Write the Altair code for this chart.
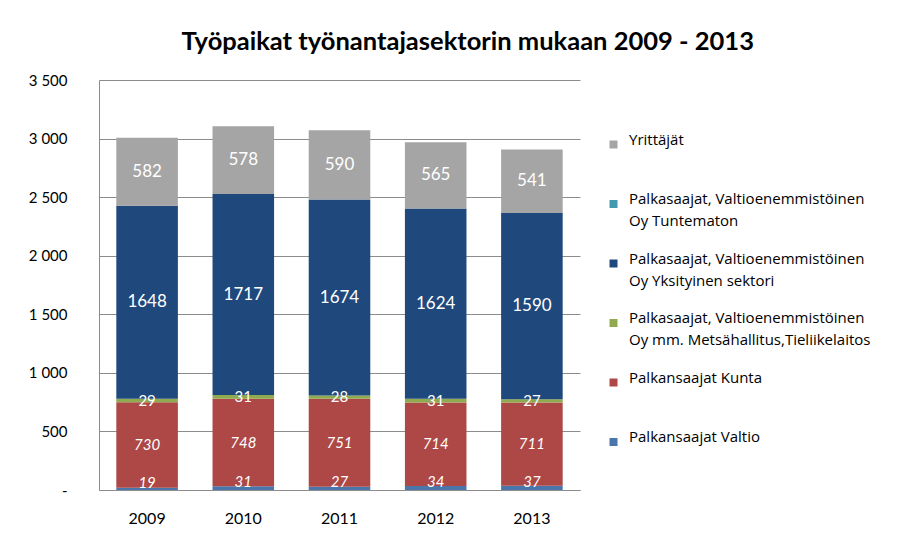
import altair as alt
import pandas as pd

years = ["2009", "2010", "2011", "2012", "2013"]
series = [
    "Palkansaajat Valtio",
    "Palkansaajat Kunta",
    "Palkasaajat, Valtioenemmistöinen|Oy mm. Metsähallitus,Tieliikelaitos",
    "Palkasaajat, Valtioenemmistöinen|Oy Yksityinen sektori",
    "Palkasaajat, Valtioenemmistöinen|Oy Tuntematon",
    "Yrittäjät",
]
valtio = [19, 31, 27, 34, 37]
kunta = [730, 748, 751, 714, 711]
metsa = [29, 31, 28, 31, 27]
yksityinen = [1648, 1717, 1674, 1624, 1590]
tuntematon = [0, 0, 0, 0, 0]
yrittajat = [582, 578, 590, 565, 541]
colors = ["#4A76AB", "#AD4846", "#8FAA4F", "#1F497D", "#4198AF", "#A5A5A5"]
y_ticks = [0, 500, 1000, 1500, 2000, 2500, 3000, 3500]

values = [valtio, kunta, metsa, yksityinen, tuntematon, yrittajat]
rows = []
for si, (s, vals) in enumerate(zip(series, values)):
    for y, v in zip(years, vals):
        rows.append({"year": y, "series": s, "order": si, "value": v})
df = pd.DataFrame(rows)

FONT = "Lato"
LFONT = "Open Sans"
legend_order = list(reversed(series))
legend_colors = list(reversed(colors))

base = alt.Chart(df).transform_stack(
    stack="value", groupby=["year"], as_=["y0", "y1"],
    sort=[alt.SortField("order", order="ascending")]
).transform_calculate(mid="(datum.y0 + datum.y1) / 2")

x_enc = alt.X("year:N", title=None, scale=alt.Scale(paddingInner=0.36, paddingOuter=0.18),
              axis=alt.Axis(labelAngle=0, ticks=False, grid=False, labelFontSize=16, labelPadding=20,
                            labelColor="#000000", domainColor="#8C8C8C", labelFont=FONT))

bars = base.mark_bar().encode(
    x=x_enc,
    y=alt.Y("y0:Q", title=None,
            scale=alt.Scale(domain=[0, 3500], nice=False),
            axis=alt.Axis(values=y_ticks, ticks=False, grid=True, labelFontSize=15, labelPadding=32,
                          labelColor="#000000", labelFont=FONT,
                          gridColor="#8C8C8C", domainColor="#8C8C8C",
                          labelExpr="datum.value == 0 ? '-\u00a0\u00a0' : replace(format(datum.value, ','), ',', ' ')")),
    y2="y1:Q",
    color=alt.Color("series:N", scale=alt.Scale(domain=legend_order, range=legend_colors),
                    legend=alt.Legend(title=None, orient="none", legendX=507, legendY=57,
                                      symbolType="square", symbolSize=64, symbolStrokeWidth=0,
                                      labelFontSize=15, labelFont=LFONT, labelColor="#000000",
                                      labelOffset=8, labelLimit=400, rowPadding=21.5,
                                      labelBaseline="alphabetic", padding=0,
                                      labelExpr="indexof(datum.label, '|') >= 0 ? split(datum.label, '|') : [datum.label, ' ']")),
    order=alt.Order("order:Q"),
)

def labels(names, size, style="normal", dy=0):
    return base.transform_filter(
        alt.FieldOneOfPredicate(field="series", oneOf=names)
    ).mark_text(color="white", fontSize=size, font=FONT, fontStyle=style, dy=dy).encode(
        x=alt.X("year:N"),
        y=alt.Y("mid:Q"),
        text=alt.Text("value:Q"),
    )

big = labels([series[3], series[5]], 17)
green = labels([series[2]], 15)
kunta_l = labels([series[1]], 15, "italic")
valtio_l = labels([series[0]], 15, "italic", dy=-6)

chart = alt.layer(bars, big, green, kunta_l, valtio_l).properties(
    width=481, height=410,
    title=alt.TitleParams("Työpaikat työnantajasektorin mukaan  2009 - 2013",
                          fontSize=25.5, font=FONT, fontWeight="bold", color="#000000",
                          anchor="middle", frame="bounds", offset=18, dx=18),
    padding={"left": 20, "top": 21, "right": 0, "bottom": 5},
).configure(style={"guide-label": {"lineHeight": 22}}, view=alt.ViewConfig(stroke=None))

chart.save("out.html", embed_options={"renderer": "svg", "actions": False})
